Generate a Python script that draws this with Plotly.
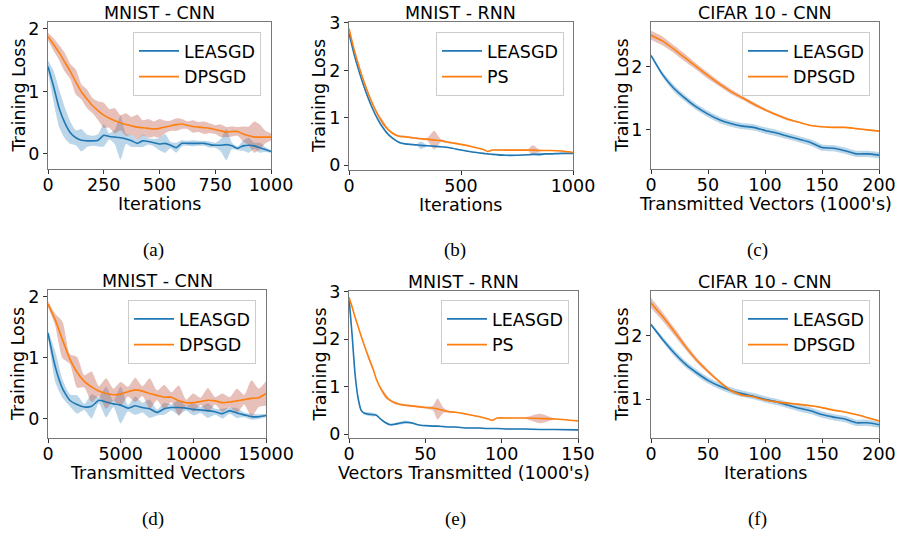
import plotly.graph_objects as go

W, H = 899, 533
FONT = "DejaVu Sans"
BLUE = "#1f77b4"
ORANGE = "#ff7f0e"
BLUE_BAND = "rgba(31,119,180,0.30)"
ORANGE_BAND = "rgba(190,90,70,0.38)"

# ---------------- (a) MNIST - CNN, Iterations ----------------
a_x = [0, 25, 50, 75, 100, 125, 150, 175, 200, 225, 250, 275, 300, 325, 350, 375, 400, 425, 450, 475,
       500, 525, 550, 575, 600, 625, 650, 675, 700, 725, 750, 775, 800, 825, 850, 875, 900, 925, 950, 975, 1000]
a_leasgd = [1.40, 1.08, 0.73, 0.50, 0.34, 0.26, 0.22, 0.21, 0.21, 0.22, 0.30, 0.28, 0.27, 0.26, 0.24, 0.21, 0.17, 0.21, 0.20, 0.18,
            0.16, 0.17, 0.14, 0.10, 0.17, 0.17, 0.17, 0.17, 0.17, 0.15, 0.14, 0.14, 0.15, 0.13, 0.09, 0.13, 0.14, 0.13, 0.10, 0.07, 0.04]
a_leasgd_sd = [0.10, 0.25, 0.30, 0.25, 0.18, 0.12, 0.18, 0.10, 0.08, 0.10, 0.18, 0.05, 0.12, 0.35, 0.08, 0.10, 0.06, 0.10, 0.05, 0.06,
               0.10, 0.15, 0.05, 0.08, 0.05, 0.04, 0.05, 0.04, 0.04, 0.05, 0.04, 0.10, 0.25, 0.05, 0.03, 0.08, 0.12, 0.05, 0.08, 0.04, 0.02]
a_dpsgd = [1.88, 1.75, 1.62, 1.47, 1.32, 1.15, 0.99, 0.88, 0.77, 0.69, 0.62, 0.57, 0.53, 0.50, 0.47, 0.45, 0.43, 0.42, 0.41, 0.40,
           0.41, 0.43, 0.45, 0.47, 0.48, 0.46, 0.44, 0.43, 0.42, 0.41, 0.39, 0.37, 0.35, 0.36, 0.36, 0.32, 0.29, 0.27, 0.27, 0.27, 0.27]
a_dpsgd_sd = [0.06, 0.10, 0.12, 0.15, 0.12, 0.20, 0.12, 0.15, 0.12, 0.15, 0.20, 0.15, 0.20, 0.12, 0.18, 0.14, 0.20, 0.12, 0.15, 0.12,
              0.15, 0.10, 0.08, 0.10, 0.08, 0.06, 0.10, 0.08, 0.10, 0.08, 0.07, 0.10, 0.08, 0.08, 0.07, 0.12, 0.15, 0.25, 0.20, 0.10, 0.06]

# ---------------- (b) MNIST - RNN, Iterations ----------------
b_x = [0, 25, 50, 75, 100, 125, 150, 175, 200, 225, 250, 300, 320, 350, 380, 410, 450, 500, 550, 600,
       620, 640, 700, 750, 800, 820, 850, 880, 900, 950, 1000]
b_leasgd = [2.78, 2.30, 1.90, 1.55, 1.25, 1.00, 0.80, 0.65, 0.55, 0.48, 0.45, 0.43, 0.42, 0.41, 0.40, 0.39, 0.37, 0.32, 0.28, 0.25,
            0.24, 0.23, 0.21, 0.21, 0.22, 0.23, 0.23, 0.24, 0.24, 0.25, 0.25]
b_leasgd_sd = [0.02, 0.03, 0.03, 0.03, 0.03, 0.02, 0.02, 0.02, 0.02, 0.02, 0.01, 0.01, 0.08, 0.01, 0.02, 0.01, 0.01, 0.01, 0.01, 0.01,
               0.01, 0.01, 0.01, 0.01, 0.01, 0.01, 0.04, 0.01, 0.01, 0.01, 0.01]
b_ps = [2.88, 2.40, 2.00, 1.65, 1.35, 1.10, 0.90, 0.75, 0.66, 0.61, 0.60, 0.57, 0.56, 0.55, 0.53, 0.52, 0.48, 0.44, 0.39, 0.33,
        0.29, 0.32, 0.32, 0.32, 0.32, 0.32, 0.31, 0.31, 0.31, 0.30, 0.27]
b_ps_sd = [0.02, 0.03, 0.04, 0.04, 0.03, 0.03, 0.06, 0.02, 0.02, 0.02, 0.02, 0.02, 0.02, 0.03, 0.20, 0.03, 0.02, 0.01, 0.01, 0.01,
           0.01, 0.01, 0.01, 0.01, 0.02, 0.10, 0.02, 0.01, 0.01, 0.01, 0.01]

# ---------------- (c) CIFAR 10 - CNN, Transmitted Vectors ----------------
c_x = [0, 10, 20, 30, 40, 50, 60, 70, 80, 90, 100, 110, 120, 130, 140, 150, 160, 170, 180, 190, 200]
c_leasgd = [2.18, 1.88, 1.66, 1.50, 1.36, 1.25, 1.16, 1.10, 1.06, 1.04, 0.99, 0.95, 0.90, 0.85, 0.80, 0.72, 0.71, 0.67, 0.62, 0.62, 0.60]
c_leasgd_sd = [0.02, 0.04, 0.05, 0.05, 0.05, 0.05, 0.05, 0.05, 0.05, 0.05, 0.05, 0.05, 0.05, 0.05, 0.05, 0.05, 0.05, 0.05, 0.05, 0.05, 0.05]
c_dpsgd = [2.50, 2.41, 2.28, 2.14, 2.00, 1.86, 1.73, 1.61, 1.51, 1.41, 1.32, 1.24, 1.17, 1.12, 1.07, 1.05, 1.04, 1.04, 1.02, 1.00, 0.98]
c_dpsgd_sd = [0.07, 0.07, 0.06, 0.06, 0.05, 0.05, 0.04, 0.04, 0.03, 0.03, 0.02, 0.02, 0.02, 0.01, 0.01, 0.01, 0.01, 0.01, 0.01, 0.01, 0.01]

# ---------------- (d) MNIST - CNN, Transmitted Vectors ----------------
d_x = [0, 500, 1000, 1500, 2000, 2500, 3000, 3500, 4000, 4500, 5000, 5500, 6000, 6500, 7000, 7500,
       8000, 8500, 9000, 9500, 10000, 10500, 11000, 11500, 12000, 12500, 13000, 13500, 14000, 14500, 15000]
d_leasgd = [1.40, 0.85, 0.49, 0.30, 0.23, 0.19, 0.20, 0.30, 0.27, 0.24, 0.22, 0.17, 0.21, 0.18, 0.16, 0.10,
            0.16, 0.18, 0.18, 0.17, 0.15, 0.14, 0.13, 0.11, 0.08, 0.13, 0.09, 0.06, 0.03, 0.03, 0.05]
d_leasgd_sd = [0.05, 0.25, 0.15, 0.10, 0.15, 0.05, 0.20, 0.05, 0.25, 0.05, 0.30, 0.05, 0.15, 0.08, 0.15, 0.05,
               0.10, 0.05, 0.12, 0.04, 0.10, 0.05, 0.12, 0.05, 0.08, 0.05, 0.08, 0.04, 0.05, 0.04, 0.03]
d_dpsgd = [1.88, 1.62, 1.29, 0.98, 0.76, 0.61, 0.52, 0.45, 0.41, 0.39, 0.40, 0.44, 0.47, 0.45, 0.41, 0.38,
           0.35, 0.35, 0.29, 0.26, 0.26, 0.28, 0.30, 0.29, 0.26, 0.27, 0.29, 0.31, 0.33, 0.34, 0.41]
d_dpsgd_sd = [0.05, 0.10, 0.30, 0.08, 0.25, 0.10, 0.25, 0.08, 0.25, 0.10, 0.20, 0.08, 0.20, 0.08, 0.25, 0.08,
              0.20, 0.08, 0.25, 0.05, 0.15, 0.06, 0.20, 0.06, 0.15, 0.08, 0.20, 0.08, 0.30, 0.15, 0.20]

# ---------------- (e) MNIST - RNN, Vectors Transmitted ----------------
e_x = [0, 2, 4, 6, 8, 10, 13, 16, 18, 21, 24, 27, 30, 33, 37, 42, 45, 50, 55, 58, 62, 66, 70, 77, 85, 90, 94, 97,
       105, 115, 125, 135, 150]
e_leasgd = [2.87, 2.10, 1.25, 0.75, 0.50, 0.44, 0.42, 0.41, 0.40, 0.31, 0.24, 0.20, 0.21, 0.23, 0.25, 0.23, 0.20, 0.18,
            0.17, 0.17, 0.16, 0.15, 0.15, 0.13, 0.13, 0.12, 0.12, 0.12, 0.11, 0.11, 0.10, 0.10, 0.09]
e_leasgd_sd = [0.02, 0.03, 0.03, 0.03, 0.02, 0.02, 0.04, 0.04, 0.02, 0.02, 0.02, 0.02, 0.02, 0.03, 0.03, 0.02, 0.01, 0.01,
               0.01, 0.01, 0.01, 0.01, 0.01, 0.01, 0.01, 0.01, 0.01, 0.01, 0.01, 0.01, 0.01, 0.01, 0.01]
e_ps = [2.88, 2.68, 2.46, 2.26, 2.06, 1.87, 1.60, 1.35, 1.15, 0.95, 0.80, 0.71, 0.66, 0.63, 0.61, 0.59, 0.58, 0.56,
        0.55, 0.53, 0.50, 0.47, 0.46, 0.42, 0.37, 0.33, 0.29, 0.34, 0.34, 0.34, 0.33, 0.32, 0.28]
e_ps_sd = [0.02, 0.02, 0.02, 0.02, 0.02, 0.02, 0.05, 0.03, 0.02, 0.02, 0.05, 0.02, 0.03, 0.02, 0.02, 0.02, 0.02, 0.02,
           0.05, 0.22, 0.05, 0.02, 0.01, 0.01, 0.01, 0.01, 0.01, 0.01, 0.01, 0.01, 0.10, 0.01, 0.01]

# ---------------- (f) CIFAR 10 - CNN, Iterations ----------------
f_x = [0, 10, 20, 30, 40, 50, 60, 70, 80, 90, 100, 110, 120, 130, 140, 150, 160, 170, 180, 190, 200]
f_leasgd = [2.18, 1.95, 1.74, 1.56, 1.42, 1.30, 1.21, 1.14, 1.09, 1.05, 1.00, 0.96, 0.91, 0.86, 0.82, 0.76, 0.72, 0.69, 0.63, 0.63, 0.60]
f_leasgd_sd = [0.02, 0.04, 0.05, 0.05, 0.05, 0.05, 0.05, 0.05, 0.05, 0.05, 0.05, 0.05, 0.05, 0.05, 0.05, 0.05, 0.05, 0.05, 0.05, 0.05, 0.05]
f_dpsgd = [2.52, 2.31, 2.08, 1.84, 1.62, 1.44, 1.28, 1.14, 1.07, 1.04, 0.99, 0.96, 0.94, 0.92, 0.90, 0.87, 0.83, 0.80, 0.76, 0.71, 0.66]
f_dpsgd_sd = [0.08, 0.07, 0.06, 0.05, 0.04, 0.03, 0.02, 0.02, 0.02, 0.01, 0.01, 0.01, 0.01, 0.01, 0.01, 0.01, 0.01, 0.01, 0.01, 0.01, 0.01]

titles = ["MNIST - CNN", "MNIST - RNN", "CIFAR 10 - CNN", "MNIST - CNN", "MNIST - RNN", "CIFAR 10 - CNN"]
xlabels = ["Iterations", "Iterations", "Transmitted Vectors (1000's)",
           "Transmitted Vectors", "Vectors Transmitted (1000's)", "Iterations"]
ylabel = "Training Loss"
captions = ["(a)", "(b)", "(c)", "(d)", "(e)", "(f)"]
series_names = [("LEASGD", "DPSGD"), ("LEASGD", "PS"), ("LEASGD", "DPSGD"),
                ("LEASGD", "DPSGD"), ("LEASGD", "PS"), ("LEASGD", "DPSGD")]
xtick_vals = [[0, 250, 500, 750, 1000], [0, 500, 1000], [0, 50, 100, 150, 200],
              [0, 5000, 10000, 15000], [0, 50, 100, 150], [0, 50, 100, 150, 200]]
ytick_vals = [[0, 1, 2], [0, 1, 2, 3], [1, 2], [0, 1, 2], [0, 1, 2, 3], [1, 2]]

data = [
    (a_x, a_leasgd, a_leasgd_sd, a_dpsgd, a_dpsgd_sd),
    (b_x, b_leasgd, b_leasgd_sd, b_ps, b_ps_sd),
    (c_x, c_leasgd, c_leasgd_sd, c_dpsgd, c_dpsgd_sd),
    (d_x, d_leasgd, d_leasgd_sd, d_dpsgd, d_dpsgd_sd),
    (e_x, e_leasgd, e_leasgd_sd, e_ps, e_ps_sd),
    (f_x, f_leasgd, f_leasgd_sd, f_dpsgd, f_dpsgd_sd),
]

# ---------------- layout geometry (pixels) ----------------
boxes = [(48, 271, 22, 169), (349, 573, 22, 170), (651, 879, 22, 169),
         (48, 266, 290, 438), (349, 578, 291, 438), (651, 879, 291, 438)]
yranges = [[-0.24, 2.11], [-0.10, 3.02], [0.38, 2.71], [-0.32, 2.11], [-0.08, 3.01], [0.39, 2.71]]
legend_pos = [(261, 32), (564, 32), (870, 32), (256, 300), (569, 300), (870, 300)]
caption_pos = [(153, 250), (455, 250), (757, 250), (153, 519), (455, 519), (757, 519)]


def px(x):
    return x / W


def py(y):
    return 1 - y / H


fig = go.Figure()
layout = dict(width=W, height=H, margin=dict(l=0, r=0, t=0, b=0, pad=0, autoexpand=False),
              autosize=False,
              paper_bgcolor="white", plot_bgcolor="white", hovermode=False,
              font=dict(family=FONT, size=17.5, color="black"), showlegend=True)
annotations = []
FS = 17.5

for i in range(6):
    n = "" if i == 0 else str(i + 1)
    xa, ya = "x" + n, "y" + n
    lg = "legend" + n
    x, m1, s1, m2, s2 = data[i]
    x0, x1, y0, y1 = boxes[i]
    for m, s, band in ((m1, s1, BLUE_BAND), (m2, s2, ORANGE_BAND)):
        lo = [a - b for a, b in zip(m, s)]
        hi = [a + b for a, b in zip(m, s)]
        fig.add_trace(go.Scatter(x=x, y=lo, xaxis=xa, yaxis=ya, mode="lines",
                                 line=dict(width=0, shape="spline", smoothing=0.6),
                                 showlegend=False, hoverinfo="skip"))
        fig.add_trace(go.Scatter(x=x, y=hi, xaxis=xa, yaxis=ya, mode="lines",
                                 line=dict(width=0, shape="spline", smoothing=0.6),
                                 fill="tonexty", fillcolor=band,
                                 showlegend=False, hoverinfo="skip"))
    for m, color, name in ((m1, BLUE, series_names[i][0]), (m2, ORANGE, series_names[i][1])):
        fig.add_trace(go.Scatter(x=x, y=m, xaxis=xa, yaxis=ya, mode="lines", name=name,
                                 line=dict(color=color, width=1.6, shape="spline", smoothing=0.5),
                                 legend=lg))
    axcommon = dict(showgrid=False, zeroline=False, showline=True, mirror=True,
                    linecolor="#777777", linewidth=1, ticks="outside", ticklen=4,
                    automargin=False,
                    tickcolor="#333333", tickfont=dict(family=FONT, size=FS, color="black"))
    layout["xaxis" + n] = dict(domain=[px(x0), px(x1)], range=[x[0], x[-1]], anchor=ya,
                               tickmode="array", tickvals=xtick_vals[i], ticklabelstandoff=-4,
                               ticktext=[str(v) for v in xtick_vals[i]], **axcommon)
    layout["yaxis" + n] = dict(domain=[py(y1), py(y0)], range=yranges[i], anchor=xa,
                               tickmode="array", tickvals=ytick_vals[i],
                               ticktext=[str(v) for v in ytick_vals[i]], **axcommon)
    lx, ly = legend_pos[i]
    layout[lg] = dict(x=px(lx), y=py(ly), xanchor="right", yanchor="top",
                      bgcolor="white", bordercolor="#cccccc", borderwidth=1,
                      font=dict(family=FONT, size=FS), itemwidth=40, tracegroupgap=0,
                      traceorder="normal")
    # title
    annotations.append(dict(text=titles[i], x=px((x0 + x1) / 2), y=py(y0 - 9),
                            xref="paper", yref="paper", showarrow=False,
                            xanchor="center", yanchor="middle",
                            font=dict(family=FONT, size=FS)))
    # x label
    annotations.append(dict(text=xlabels[i], x=px((x0 + x1) / 2), y=py(y1 + 35),
                            xref="paper", yref="paper", showarrow=False,
                            xanchor="center", yanchor="middle",
                            font=dict(family=FONT, size=FS)))
    # y label
    annotations.append(dict(text=ylabel, x=px(x0 - 30), y=py((y0 + y1) / 2),
                            xref="paper", yref="paper", showarrow=False, textangle=-90,
                            xanchor="center", yanchor="middle",
                            font=dict(family=FONT, size=FS)))
    # caption
    cx, cy = caption_pos[i]
    annotations.append(dict(text=captions[i], x=px(cx), y=py(cy),
                            xref="paper", yref="paper", showarrow=False,
                            xanchor="center", yanchor="middle",
                            font=dict(family="Liberation Serif", size=19)))

layout["annotations"] = annotations
fig.update_layout(**layout)
fig.write_html("out.html", config={"displayModeBar": False},
               post_script="document.body.style.margin='0';document.body.style.overflow='hidden';")
